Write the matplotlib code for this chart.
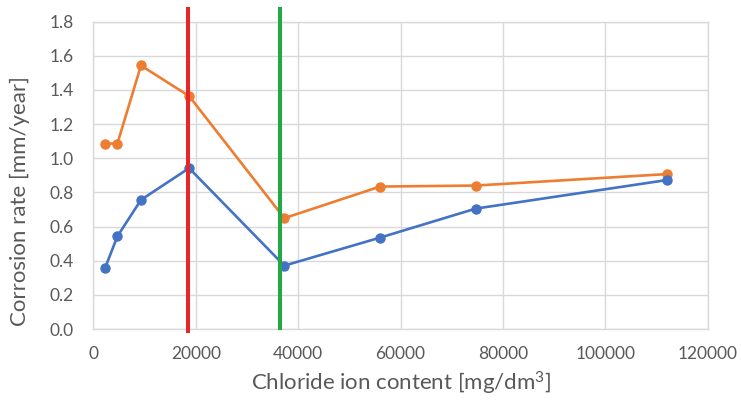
import numpy as np
import matplotlib
matplotlib.use("Agg")
import matplotlib.pyplot as plt

# ----------------------------
# Data
# ----------------------------
chloride = [2300, 4700, 9300, 18700, 37300, 56000, 74700, 112000]   # mg/dm3
rate_orange = [1.086, 1.086, 1.543, 1.364, 0.649, 0.834, 0.840, 0.907]
rate_blue = [0.358, 0.543, 0.756, 0.942, 0.371, 0.535, 0.705, 0.872]

red_x = 18400     # vertical marker lines
green_x = 36400

x_ticks = [0, 20000, 40000, 60000, 80000, 100000, 120000]
y_ticks = np.arange(0.0, 1.81, 0.2)

ORANGE = "#ED7D31"
BLUE = "#4472C4"
GRID = "#D9D9D9"
TEXT = "#595959"

plt.rcParams["font.family"] = ["Lato", "DejaVu Sans"]
plt.rcParams["mathtext.fontset"] = "custom"
plt.rcParams["mathtext.rm"] = "Lato"
plt.rcParams["mathtext.it"] = "Lato"

fig = plt.figure(figsize=(7.41, 4.0), dpi=100)
ax = fig.add_axes([0.126, 0.1775, 0.829, 0.7685])

ax.plot(chloride, rate_orange, color=ORANGE, lw=1.9, marker="o", ms=6.5, zorder=3)
ax.plot(chloride, rate_blue, color=BLUE, lw=1.9, marker="o", ms=6.5, zorder=3)

# vertical lines stick out above the plot area, like shapes drawn on top
ax.axvline(red_x, ymin=-0.008, ymax=1.04, color="#E8262A", lw=2.9, clip_on=False, zorder=4)
ax.axvline(green_x, ymin=0.004, ymax=1.04, color="#22A845", lw=2.9, clip_on=False, zorder=4)

ax.set_xlim(0, 120000)
ax.set_ylim(0, 1.8)
ax.set_xticks(x_ticks)
ax.set_yticks(y_ticks)
ax.set_yticklabels([f"{v:.1f}" for v in y_ticks])

ax.grid(True, color=GRID, lw=1.0, zorder=0)
ax.set_axisbelow(True)
for side in ax.spines.values():
    side.set_color(GRID)
    side.set_linewidth(1.0)
ax.tick_params(length=0, colors=TEXT, labelsize=12.5)
ax.tick_params(axis="x", pad=12)
ax.tick_params(axis="y", pad=14)

fig.text(401 / 741, 1 - 383 / 400, r"Chloride ion content [mg/dm$\mathrm{^3}$]",
         color=TEXT, fontsize=16, ha="center", va="center")
fig.text(20 / 741, 1 - 201 / 400, "Corrosion rate [mm/year]",
         color=TEXT, fontsize=16, ha="center", va="center", rotation=90)

fig.savefig("out.png", dpi=100)
